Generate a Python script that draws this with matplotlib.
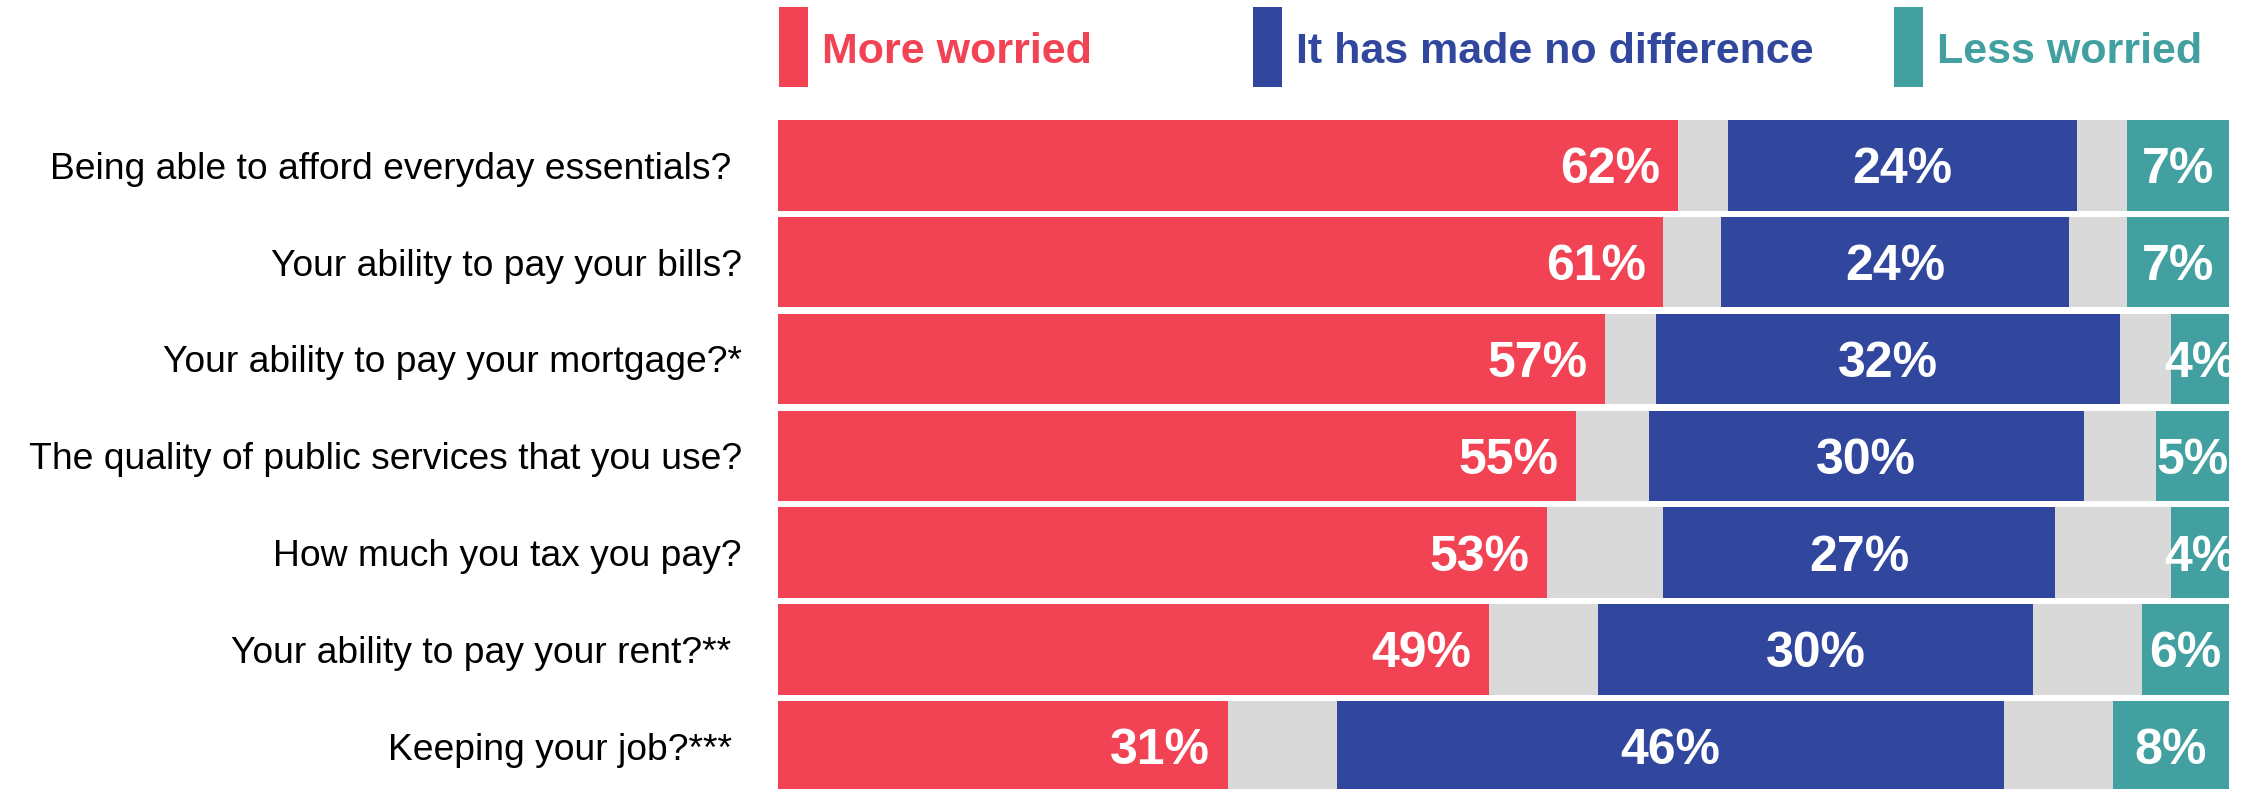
import matplotlib.pyplot as plt
from matplotlib.patches import Rectangle
import numpy as np

CATEGORIES = [
    "Being able to afford everyday essentials? ",
    "Your ability to pay your bills?",
    "Your ability to pay your mortgage?*",
    "The quality of public services that you use?",
    "How much you tax you pay?",
    "Your ability to pay your rent?** ",
    "Keeping your job?*** ",
]
MORE_WORRIED = [62, 61, 57, 55, 53, 49, 31]
NO_DIFFERENCE = [24, 24, 32, 30, 27, 30, 46]
LESS_WORRIED = [7, 7, 4, 5, 4, 6, 8]
# don't know / no answer, shown as grey split either side of the middle bar
DONT_KNOW = [7, 8, 7, 10, 16, 15, 15]

LEGEND_LABELS = ["More worried", "It has made no difference", "Less worried"]

RED = "#F24355"
BLUE = "#31479E"
TEAL = "#42A0A0"
GREY = "#D9D9D9"

W, H, DPI = 2241, 789, 100
plt.rcParams["font.family"] = ["Liberation Sans", "DejaVu Sans"]

fig = plt.figure(figsize=(W / DPI, H / DPI), dpi=DPI, facecolor="white")
ax = fig.add_axes((778 / W, 0, (2229 - 778) / W, (H - 120) / H))

y = np.arange(len(CATEGORIES))
more = np.array(MORE_WORRIED, dtype=float)
nodiff = np.array(NO_DIFFERENCE, dtype=float)
less = np.array(LESS_WORRIED, dtype=float)
dk_half = np.array(DONT_KNOW, dtype=float) / 2

bar_h = 0.935
left = np.zeros(len(y))
segments = [
    (more, RED),
    (dk_half, GREY),
    (nodiff, BLUE),
    (dk_half, GREY),
    (less, TEAL),
]
starts = []
for vals, col in segments:
    ax.barh(y, vals, left=left, height=bar_h, color=col, edgecolor="none")
    starts.append(left.copy())
    left = left + vals

# baseline sits half a cap height below the bar centre (y axis inverted)
dy = 0.185
val_kw = dict(color="white", fontsize=36, fontweight="bold", va="baseline", clip_on=True)
for i in y:
    ax.text(more[i] - 1.2, i + dy, f"{MORE_WORRIED[i]}%", ha="right", **val_kw)
    ax.text(starts[2][i] + nodiff[i] / 2, i + dy, f"{NO_DIFFERENCE[i]}%", ha="center", **val_kw)
    ax.text(starts[4][i] + less[i] / 2, i + dy, f"{LESS_WORRIED[i]}%", ha="center", **val_kw)

ax.set_xlim(0, 100)
ax.set_ylim(6.44, -0.4675)
ax.set_yticks(y, CATEGORIES)
ax.tick_params(axis="y", length=0, pad=26, labelsize=26.8, labelcolor="black")
ax.set_xticks([])
for s in ax.spines.values():
    s.set_visible(False)

# legend: tall colour swatch + bold coloured text
legend_x = [779, 1253, 1894]
for x0, label, col in zip(legend_x, LEGEND_LABELS, [RED, BLUE, TEAL]):
    fig.add_artist(Rectangle((x0 / W, (H - 87) / H), 29 / W, 80 / H,
                             transform=fig.transFigure, color=col, lw=0))
    fig.text((x0 + 43) / W, 1 - 63 / H, label, color=col, fontsize=31,
             fontweight="bold", va="baseline", ha="left")

fig.savefig("out.png", dpi=DPI, facecolor="white")
